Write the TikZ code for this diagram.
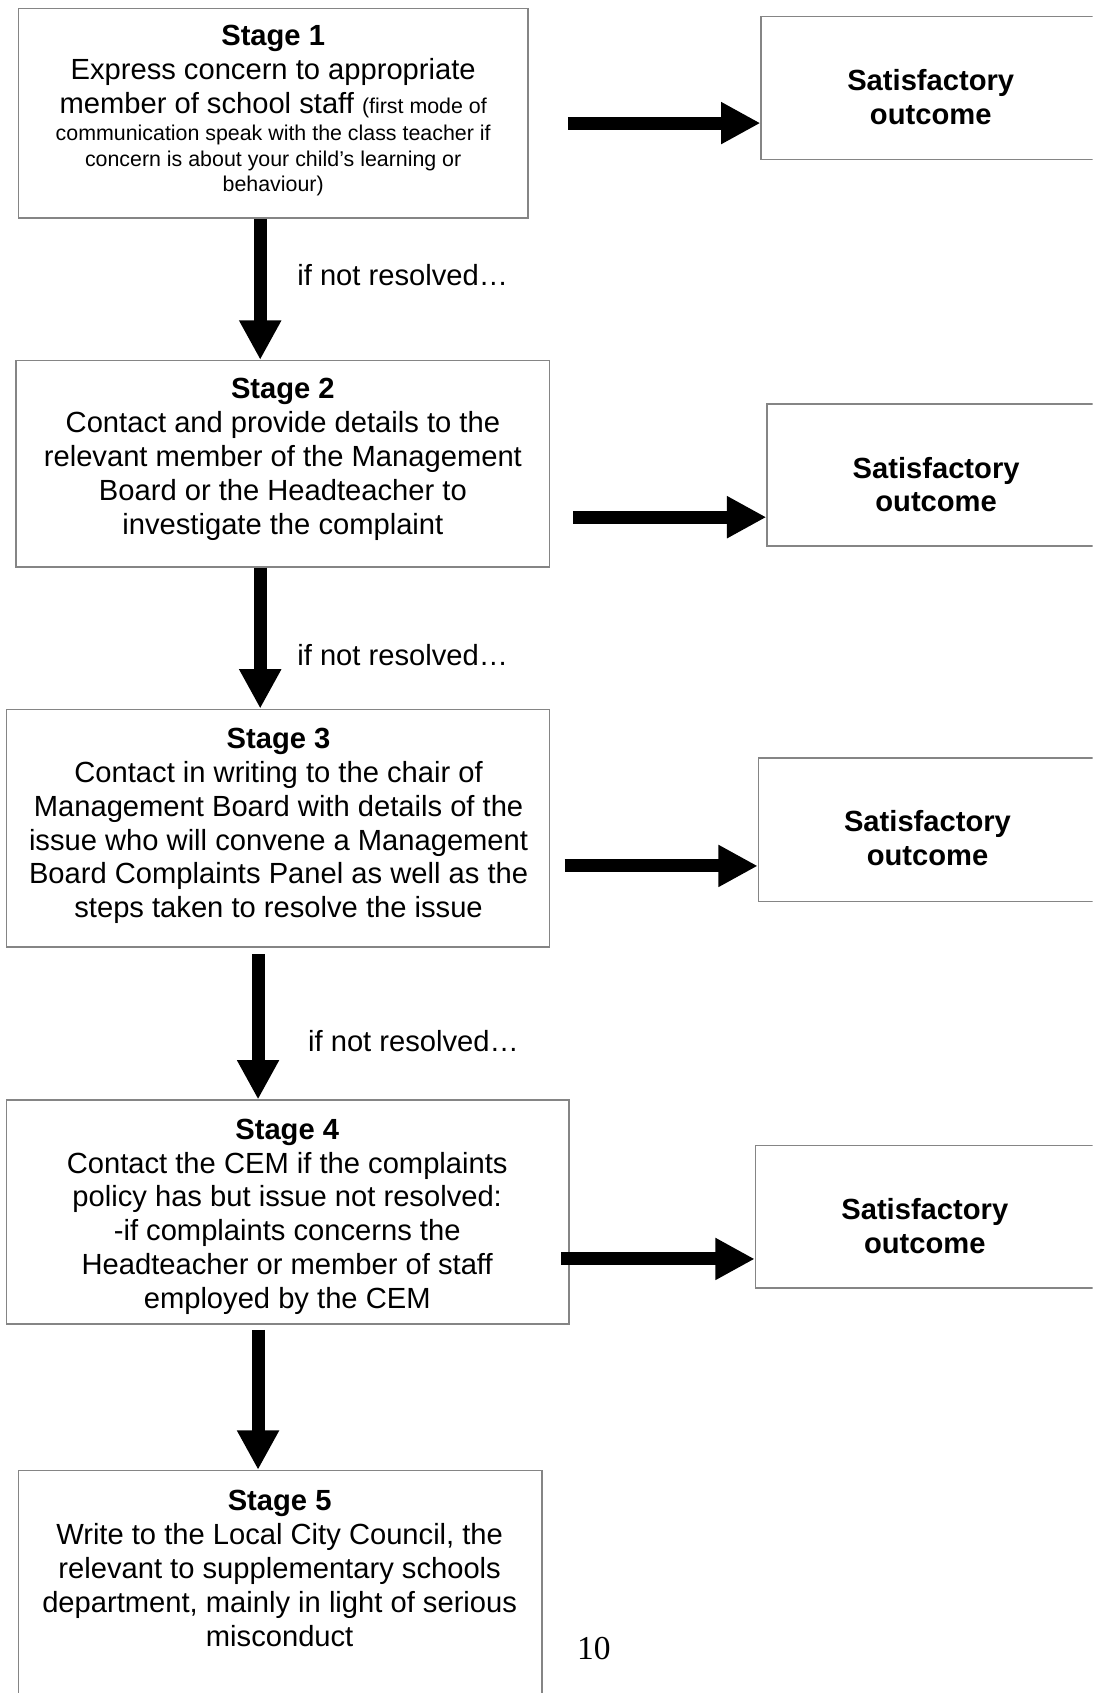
\documentclass[tikz,border=0pt]{standalone}
\usepackage{fontspec}
\setmainfont{Liberation Sans}
\newfontfamily\pagenumfont{Liberation Serif}
\usetikzlibrary{arrows.meta,fit}
\definecolor{boxgray}{HTML}{858585}
\newcommand{\mainsize}{\fontsize{13.5pt}{15.7pt}\selectfont}
\newcommand{\smallsize}{\fontsize{9.9pt}{11.6pt}\selectfont}
\tikzset{
  box/.style={draw=boxgray, line width=0.7pt, inner sep=0pt},
  txt/.style={align=center, inner sep=0pt, font=\mainsize},
  smalltxt/.style={align=center, inner sep=0pt, font=\smallsize},
  lbl/.style={inner sep=0pt, font=\mainsize, anchor=base west},
  bigarrow/.style={line width=6pt, -{Triangle[width=18.25pt,length=18.25pt]}},
}
\begin{document}
\begin{tikzpicture}[x=0.5pt,y=-0.5pt]
\useasboundingbox (0,0) rectangle (1012,1568);
\clip (0,0) rectangle (1012,1568);
% stage boxes
\node[box, fit={(17,8) (489,202)}] (s1) {};
\node[box, fit={(15,334) (509,525)}] (s2) {};
\node[box, fit={(6,657) (509,877)}] (s3) {};
\node[box, fit={(6,1019) (527,1226)}] (s4) {};
\node[box, fit={(17,1362) (502,1600)}] (s5) {};
% outcome boxes
\node[box, fit={(705,15.4) (1030,147.5)}] (o1) {};
\node[box, fit={(710.5,374) (1030,505.6)}] (o2) {};
\node[box, fit={(702.5,702) (1030,835)}] (o3) {};
\node[box, fit={(699.7,1061) (1030,1193)}] (o4) {};
% texts
\node[txt, anchor=north] (s1t) at (253,22.8) {\textbf{Stage 1}\\Express concern to appropriate\\member of school staff {\smallsize(first mode of}};
\node[smalltxt, anchor=north] (s1u) at (253,115.8) {communication speak with the class teacher if\\concern is about your child’s learning or\\behaviour)};
\node[txt, anchor=north] (s2t) at (262,349.8) {\textbf{Stage 2}\\Contact and provide details to the\\relevant member of the Management\\Board or the Headteacher to\\investigate the complaint};
\node[txt, anchor=north] (s3t) at (258,673.8) {\textbf{Stage 3}\\Contact in writing to the chair of\\Management Board with details of the\\issue who will convene a Management\\Board Complaints Panel as well as the\\steps taken to resolve the issue};
\node[txt, anchor=north] (s4t) at (266,1035.8) {\textbf{Stage 4}\\Contact the CEM if the complaints\\policy has but issue not resolved:\\-if complaints concerns the\\Headteacher or member of staff\\employed by the CEM};
\node[txt, anchor=north] (s5t) at (259,1379.8) {\textbf{Stage 5}\\Write to the Local City Council, the\\relevant to supplementary schools\\department, mainly in light of serious\\misconduct};
\node[txt, anchor=north, font=\mainsize\bfseries] (o1t) at (862,63.6) {Satisfactory\\outcome};
\node[txt, anchor=north, font=\mainsize\bfseries] (o2t) at (867,422.8) {Satisfactory\\outcome};
\node[txt, anchor=north, font=\mainsize\bfseries] (o3t) at (859,750.3) {Satisfactory\\outcome};
\node[txt, anchor=north, font=\mainsize\bfseries] (o4t) at (856.5,1109.9) {Satisfactory\\outcome};
\node[lbl] (l1) at (275,264.5) {if not resolved…};
\node[lbl] (l2) at (275,616.5) {if not resolved…};
\node[lbl] (l3) at (285,973.5) {if not resolved…};
\node[inner sep=0pt, anchor=base, font=\pagenumfont\fontsize{15.5pt}{18pt}\selectfont] (pg) at (550,1537) {10};
% column coordinates
\coordinate (ca) at (241,0);
\coordinate (cb) at (239,0);
% down arrows
\draw[bigarrow] (s1.south -| ca) -- (s2.north -| ca);
\draw[bigarrow] (s2.south -| ca) -- (s3.north -| ca);
\draw[bigarrow] ([yshift=-3pt]s3.south -| cb) -- (s4.north -| cb);
\draw[bigarrow] ([yshift=-2.5pt]s4.south -| cb) -- (s5.north -| cb);
% right arrows
\coordinate (r1) at (526,114);
\coordinate (r2) at (531,479);
\coordinate (r3) at (523,802);
\coordinate (r4) at (520,1166);
\draw[bigarrow] (r1) -- (r1 -| o1.west);
\draw[bigarrow] (r2) -- (r2 -| o2.west);
\draw[bigarrow] (r3) -- (r3 -| o3.west);
\draw[bigarrow] (r4) -- (r4 -| o4.west);
\end{tikzpicture}
\end{document}
